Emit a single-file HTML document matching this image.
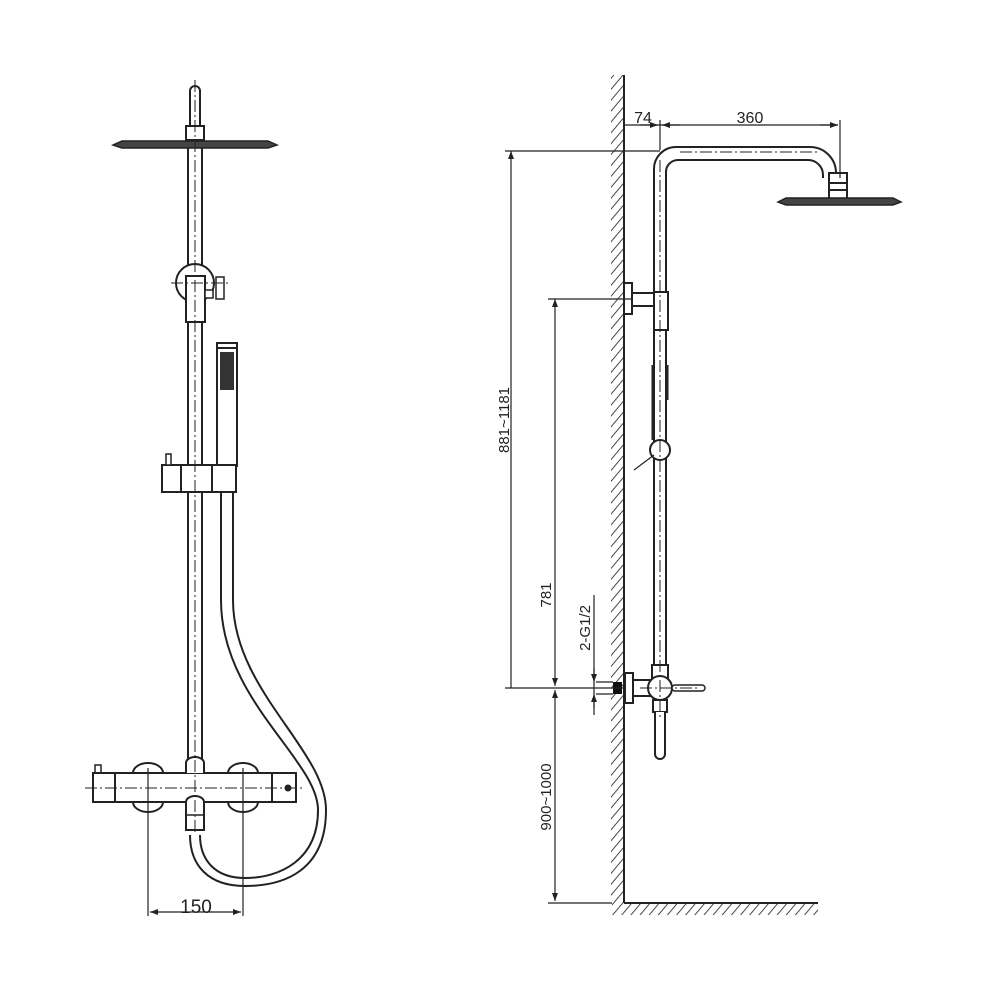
<!DOCTYPE html>
<html><head><meta charset="utf-8"><style>
html,body{margin:0;padding:0;background:#fff;width:1000px;height:1000px;overflow:hidden}
svg{display:block}
text{font-family:"Liberation Sans",sans-serif;fill:#222}
</style></head><body>
<svg width="1000" height="1000" viewBox="0 0 1000 1000" xmlns="http://www.w3.org/2000/svg">
<defs>
<pattern id="h" width="7" height="7" patternUnits="userSpaceOnUse" patternTransform="rotate(40)">
<line x1="0" y1="0" x2="0" y2="7" stroke="#333" stroke-width="1.8"/></pattern>
<marker id="a" markerWidth="8" markerHeight="6" refX="8" refY="3" orient="auto-start-reverse" markerUnits="userSpaceOnUse">
<path d="M0,0 L8,3 L0,6z" fill="#222"/></marker>
</defs>
<g fill="none" stroke="#222" stroke-width="2">
<!-- LEFT VIEW -->
<path d="M190,128 V91 a5,5 0 0 1 10,0 V128" />
<rect x="186" y="126" width="18" height="14" fill="#fff"/>
<path d="M113,145 L122,141 H268 L277,145 L268,148 H122 Z" fill="#444" stroke-width="1.5"/>
<line x1="188" y1="148" x2="188" y2="770"/>
<line x1="202" y1="148" x2="202" y2="770"/>
<circle cx="195" cy="283" r="19" fill="#fff"/>
<rect x="186" y="276" width="19" height="46" fill="#fff"/>
<rect x="205" y="290" width="8" height="8" fill="#fff" stroke-width="1.5"/>
<rect x="216" y="277" width="8" height="22" fill="#fff" stroke-width="1.5"/>
<rect x="217" y="343" width="20" height="123" fill="#fff"/>
<rect x="220" y="352" width="14" height="38" fill="#333" stroke="none"/>
<line x1="217" y1="348" x2="237" y2="348"/>
<path d="M162,465 H236 V492 H162 Z" fill="#fff"/>
<line x1="181" y1="465" x2="181" y2="492"/>
<line x1="212" y1="465" x2="212" y2="492"/>
<rect x="166" y="454" width="5" height="11" fill="#fff" stroke-width="1.5"/>
<line x1="221" y1="492" x2="221" y2="500"/><line x1="233" y1="492" x2="233" y2="500"/>
<!-- hose -->
<path d="M221,500 V600 C221,700 318,760 318,810 C318,860 280,878 245,878 C215,878 200,860 200,835"/>
<path d="M233,500 V600 C233,690 326,750 326,810 C326,870 285,886 245,886 C208,886 190,865 190,835"/>
<!-- thermostat -->
<path d="M133,773 a15,10 0 0 1 30,0 M228,773 a15,10 0 0 1 30,0 M133,802 a15,10 0 0 0 30,0 M228,802 a15,10 0 0 0 30,0"/>
<rect x="93" y="773" width="203" height="29" fill="#fff"/>
<line x1="115" y1="773" x2="115" y2="802"/><line x1="272" y1="773" x2="272" y2="802"/>
<rect x="95" y="765" width="6" height="8" stroke-width="1.5"/>
<circle cx="288" cy="788" r="2.5" fill="#222"/>
<path d="M186,773 V763 a9,6 0 0 1 18,0 V773" fill="#fff"/>
<path d="M186,802 a9,6 0 0 1 18,0 V830 H186 Z" fill="#fff"/>
<line x1="186" y1="815" x2="204" y2="815" stroke-width="1.5"/>
<!-- dims -->
<g stroke-width="1.2">
<line x1="148" y1="768" x2="148" y2="916"/><line x1="243" y1="768" x2="243" y2="916"/>
<line x1="150" y1="912" x2="241" y2="912" marker-start="url(#a)" marker-end="url(#a)"/>
</g>
<g stroke-width="1" stroke-dasharray="12,3,2,3">
<line x1="195" y1="80" x2="195" y2="835"/>
<line x1="85" y1="788" x2="305" y2="788"/>
<line x1="171" y1="283" x2="228" y2="283"/>
</g>

<!-- RIGHT VIEW -->
<rect x="611" y="75" width="13" height="828" fill="url(#h)" stroke="none"/>
<rect x="612" y="903" width="206" height="12" fill="url(#h)" stroke="none"/>
<line x1="624" y1="75" x2="624" y2="903"/>
<line x1="624" y1="903" x2="818" y2="903"/>
<path d="M654,665 V170 a22,22 0 0 1 22,-23 H810 a26,26 0 0 1 26,26 V178"/>
<path d="M666,665 V172 a12,12 0 0 1 12,-12 H808 a15,15 0 0 1 15,15 V178"/>
<rect x="829" y="173" width="18" height="27" fill="#fff"/>
<line x1="829" y1="183" x2="847" y2="183"/><line x1="829" y1="190" x2="847" y2="190"/>
<path d="M778,202 L786,198 H893 L901,202 L893,205 H786 Z" fill="#444" stroke-width="1.5"/>
<rect x="624" y="283" width="8" height="31" fill="#fff"/>
<rect x="632" y="293" width="22" height="13" fill="#fff"/>
<rect x="654" y="292" width="14" height="38" fill="#fff"/>
<line x1="653" y1="365" x2="653" y2="440" stroke-width="3"/>
<line x1="667" y1="365" x2="667" y2="400" stroke-width="3"/>
<circle cx="660" cy="450" r="10" fill="#fff"/>
<line x1="634" y1="470" x2="654" y2="455" stroke-width="1.2"/>
<!-- valve -->
<rect x="652" y="665" width="16" height="14" fill="#fff"/>
<rect x="625" y="673" width="8" height="30" fill="#fff"/>
<rect x="633" y="680" width="22" height="16" fill="#fff"/>
<circle cx="660" cy="688" r="12" fill="#fff"/>
<rect x="672" y="685" width="33" height="6" rx="3" fill="#fff" stroke-width="1.5"/>
<rect x="653" y="700" width="14" height="12" fill="#fff"/>
<path d="M655,712 V754 a5,5 0 0 0 10,0 V712" fill="#fff"/>
<rect x="613" y="682" width="9" height="12" fill="#111" stroke="none"/>
<line x1="596" y1="682" x2="613" y2="682" stroke-width="1.2"/>
<line x1="596" y1="694" x2="613" y2="694" stroke-width="1.2"/>
<g stroke-width="1" stroke-dasharray="12,3,2,3">
<line x1="660" y1="160" x2="660" y2="718"/>
<line x1="680" y1="152" x2="820" y2="152"/>
<line x1="640" y1="688" x2="700" y2="688"/>
</g>
<!-- dims right -->
<g stroke-width="1.2">
<line x1="505" y1="151" x2="660" y2="151"/>
<line x1="511" y1="151" x2="511" y2="688" marker-start="url(#a)"/>
<line x1="505" y1="688" x2="624" y2="688"/>
<line x1="548" y1="299" x2="632" y2="299"/>
<line x1="555" y1="299" x2="555" y2="686" marker-start="url(#a)" marker-end="url(#a)"/>
<line x1="555" y1="690" x2="555" y2="901" marker-start="url(#a)" marker-end="url(#a)"/>
<line x1="548" y1="903" x2="612" y2="903"/>
<line x1="594" y1="595" x2="594" y2="715"/>
<line x1="594" y1="668" x2="594" y2="682" marker-end="url(#a)"/>
<line x1="594" y1="708" x2="594" y2="694" marker-end="url(#a)"/>
<line x1="624" y1="125" x2="838" y2="125"/>
<line x1="640" y1="125" x2="658" y2="125" marker-end="url(#a)"/>
<line x1="662" y1="125" x2="680" y2="125" marker-start="url(#a)"/>
<line x1="820" y1="125" x2="838" y2="125" marker-end="url(#a)"/>
<line x1="660" y1="120" x2="660" y2="150"/>
<line x1="840" y1="120" x2="840" y2="178"/>
</g>
</g>
<text x="196" y="913" font-size="19" text-anchor="middle">150</text>
<text x="643" y="123" font-size="16" text-anchor="middle">74</text>
<text x="750" y="123" font-size="16" text-anchor="middle">360</text>
<text transform="translate(509,420) rotate(-90)" font-size="15" text-anchor="middle">881~1181</text>
<text transform="translate(551,595) rotate(-90)" font-size="15" text-anchor="middle">781</text>
<text transform="translate(551,797) rotate(-90)" font-size="15" text-anchor="middle">900~1000</text>
<text transform="translate(590,628) rotate(-90)" font-size="15" text-anchor="middle">2-G1/2</text>
</svg>
</body></html>
